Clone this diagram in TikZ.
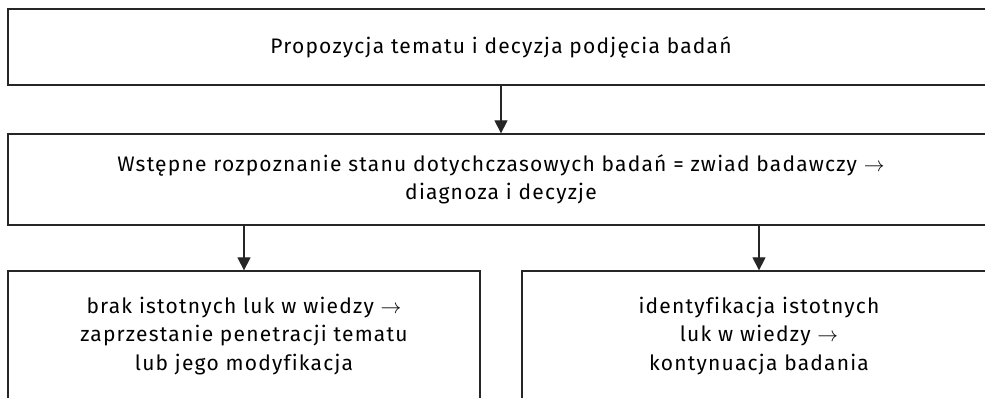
\documentclass[tikz,border=0pt]{standalone}
\usepackage{fontspec}
\setmainfont{Fira Sans}[LetterSpace=5.8, Ligatures=NoCommon]
\usetikzlibrary{arrows.meta}
\begin{document}
\begin{tikzpicture}[x=1pt,y=-1pt,
  stagebox/.style={draw=black!85, line width=1.3pt, align=center,
    font=\fontsize{21}{28.5}\selectfont, inner sep=0pt, anchor=center},
  flow/.style={draw=black!85, line width=1.2pt,
    -{Triangle[width=13pt,length=13pt]}}]
\useasboundingbox (0,0) rectangle (985,397);
\node[stagebox, minimum width=986pt, minimum height=76pt] (top) at (501,47)
  {Propozycja tematu i decyzja podjęcia badań};
\node[stagebox, minimum width=986pt, minimum height=91pt] (scout) at (501,179.5)
  {Wstępne rozpoznanie stanu dotychczasowych badań = zwiad badawczy $\rightarrow$\\diagnoza i decyzje};
\node[stagebox, minimum width=472pt, minimum height=130pt] (stop) at (244,336)
  {brak istotnych luk w wiedzy $\rightarrow$\\zaprzestanie penetracji tematu\\lub jego modyfikacja};
\node[stagebox, minimum width=474pt, minimum height=130pt] (go) at (759,336)
  {identyfikacja istotnych\\luk w wiedzy $\rightarrow$\\kontynuacja badania};
\draw[flow] (top.south) -- (scout.north);
\draw[flow] (scout.south -| stop.north) -- (stop.north);
\draw[flow] (scout.south -| go.north) -- (go.north);
\end{tikzpicture}
\end{document}
